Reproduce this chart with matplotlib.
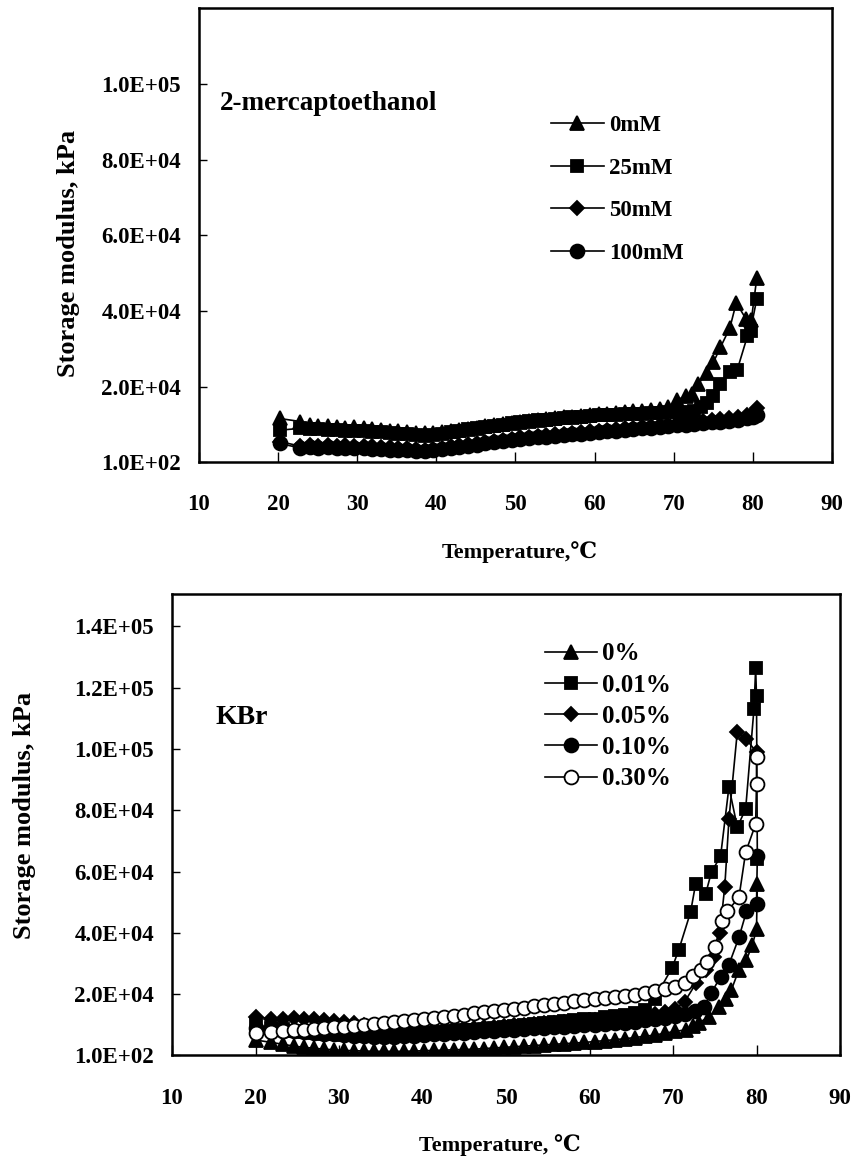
import matplotlib
matplotlib.use("Agg")
import matplotlib.pyplot as plt

SERIF = ["Liberation Serif", "DejaVu Serif"]
plt.rcParams["font.family"] = SERIF
plt.rcParams["font.weight"] = "bold"

# ---------------- 2-mercaptoethanol panel ----------------
T_top_base = [20.2, 22.8, 24.0, 25.1, 26.3, 27.4, 28.5, 29.6, 30.8, 31.9, 33.0,
              34.1, 35.2, 36.3, 37.4, 38.5, 39.6, 40.7, 41.8, 42.9, 44.0, 45.1,
              46.2, 47.3, 48.4, 49.5, 50.6, 51.7, 52.8, 53.9, 55.0, 56.1, 57.2,
              58.3, 59.4, 60.5, 61.6, 62.7, 63.8, 64.9, 66.0, 67.1, 68.2, 69.3]

G_0mM_base = [11600, 10800, 9800, 9500, 9700, 9300, 9200, 9300, 9000, 8800, 8600,
              8400, 8200, 8000, 7800, 7700, 7800, 8000, 8300, 8600, 8900, 9200,
              9500, 9800, 10100, 10400, 10700, 11000, 11300, 11500, 11700, 11900,
              12100, 12300, 12500, 12700, 12900, 13100, 13300, 13500, 13700, 13900,
              14200, 14600]
T_0mM_tail = [70.4, 71.5, 72.3, 73.1, 74.2, 75.0, 75.9, 77.1, 77.9, 79.1, 79.8, 80.5]
G_0mM_tail = [16500, 17500, 18200, 20800, 23500, 26400, 30400, 35600, 42200, 38000,
              37600, 48800]

G_25mM_base = [8500, 9000, 8800, 8700, 8600, 8500, 8400, 8300, 8200, 8100, 8000,
               7800, 7600, 7400, 7200, 7100, 7300, 7600, 7900, 8300, 8700, 9100,
               9400, 9700, 10000, 10300, 10600, 10900, 11100, 11300, 11500, 11700,
               11900, 12100, 12300, 12400, 12500, 12600, 12700, 12800, 12900, 13000,
               13100, 13200]
T_25mM_tail = [70.4, 71.5, 72.6, 73.4, 74.2, 75.0, 75.9, 77.1, 78.0, 79.3, 79.7, 80.5]
G_25mM_tail = [13300, 13400, 13500, 14600, 15600, 17500, 20600, 23800, 24300, 33300,
               34800, 43300]

G_50mM_base = [5500, 4300, 4500, 4400, 4500, 4400, 4500, 4300, 4400, 4200, 4100,
               4000, 3800, 3700, 3500, 3400, 3600, 3900, 4200, 4500, 4800, 5100,
               5400, 5700, 6000, 6300, 6600, 6800, 7000, 7200, 7400, 7600, 7800,
               8000, 8200, 8400, 8600, 8800, 9000, 9200, 9400, 9600, 9800, 10000]
T_50mM_tail = [70.4, 71.5, 72.6, 73.7, 74.8, 75.9, 77.0, 78.1, 79.2, 80.0, 80.5]
G_50mM_tail = [10200, 10400, 10600, 10900, 11200, 11500, 11800, 12100, 12600, 13100,
               14500]

G_100mM_base = [5000, 3800, 4000, 3900, 4000, 3800, 3900, 3700, 3800, 3600, 3500,
                3400, 3300, 3200, 3100, 3000, 3200, 3500, 3800, 4100, 4400, 4700,
                5000, 5300, 5600, 5900, 6200, 6400, 6600, 6800, 7000, 7200, 7400,
                7600, 7800, 8000, 8200, 8400, 8600, 8800, 9000, 9200, 9400, 9600]
T_100mM_tail = [70.4, 71.5, 72.6, 73.7, 74.8, 75.9, 77.0, 78.1, 79.2, 80.0, 80.5]
G_100mM_tail = [9800, 10000, 10200, 10400, 10600, 10800, 11000, 11300, 11600, 12000,
                12500]

top_labels = ["0mM", "25mM", "50mM", "100mM"]

# ---------------- KBr panel ----------------
T_bot_base = [20.0, 21.9, 23.3, 24.6, 25.8, 27.0, 28.2, 29.4, 30.6, 31.8, 33.0,
              34.2, 35.4, 36.6, 37.8, 39.0, 40.2, 41.4, 42.6, 43.8, 45.0, 46.2,
              47.4, 48.6, 49.8, 51.0, 52.2, 53.4, 54.6, 55.8, 57.0, 58.2, 59.4,
              60.6, 61.8, 63.0, 64.2, 65.4, 66.6, 67.8]

G_0pct_base = [5000, 4200, 3600, 3000, 2600, 2300, 2000, 1800, 1600, 1500, 1400,
               1300, 1300, 1300, 1300, 1400, 1500, 1600, 1700, 1800, 1900, 2000,
               2200, 2400, 2600, 2800, 3000, 3200, 3400, 3600, 3800, 4000, 4200,
               4500, 4800, 5100, 5400, 5800, 6200, 6600]
T_0pct_tail = [69.0, 70.2, 71.5, 72.4, 73.1, 74.3, 75.5, 76.3, 77.0, 77.9, 78.8,
               79.5, 80.0, 80.1]
G_0pct_tail = [7200, 7800, 8300, 9500, 10600, 12600, 15800, 18500, 21400, 28000,
               31200, 36000, 41100, 55800]

G_001pct_base = [10000, 9000, 8500, 8000, 7700, 7400, 7100, 6900, 6700, 6500, 6400,
                 6300, 6300, 6400, 6600, 6800, 7000, 7200, 7500, 7800, 8100, 8400,
                 8700, 9000, 9300, 9600, 9900, 10200, 10500, 10800, 11100, 11400,
                 11700, 12000, 12400, 12800, 13300, 13800, 14800, 18500]
T_001pct_tail = [69.9, 70.7, 72.1, 72.7, 73.9, 74.6, 75.7, 76.7, 77.7, 78.7, 79.7,
                 79.9, 80.0, 80.1]
G_001pct_tail = [28600, 34500, 46700, 55800, 52600, 59800, 65000, 87600, 74500,
                 80400, 113200, 126300, 117200, 64000]

G_005pct_base = [12500, 12000, 11800, 12200, 11800, 12000, 11500, 11200, 11000,
                 10500, 10000, 9500, 9000, 8800, 8600, 8500, 8500, 8600, 8700, 8800,
                 8900, 9000, 9200, 9400, 9600, 9800, 10000, 10200, 10400, 10600,
                 10800, 11000, 11200, 11400, 11700, 12000, 12300, 12600, 13000, 13500]
T_005pct_tail = [69.0, 70.2, 71.4, 72.8, 73.9, 74.9, 75.6, 76.2, 76.7, 77.7, 78.7,
                 80.0]
G_005pct_tail = [14000, 15000, 17500, 23700, 28000, 32200, 40000, 55000, 77000,
                 105600, 103400, 99000]

G_010pct_base = [9000, 8500, 8000, 7800, 7500, 7200, 7000, 6800, 6600, 6400, 6200,
                 6100, 6000, 6100, 6200, 6400, 6600, 6800, 7000, 7200, 7400, 7600,
                 7800, 8000, 8200, 8400, 8600, 8800, 9000, 9200, 9400, 9600, 9800,
                 10000, 10200, 10400, 10700, 11000, 11400, 11800]
T_010pct_tail = [69.0, 70.2, 71.4, 72.6, 73.7, 74.6, 75.7, 76.7, 77.9, 78.8, 80.0,
                 80.1]
G_010pct_tail = [12300, 12900, 13600, 14600, 15800, 20400, 25700, 29600, 38500,
                 47000, 49300, 65000]

G_030pct_base = [7300, 7700, 7900, 8200, 8400, 8700, 8900, 9100, 9400, 9700, 9900,
                 10200, 10500, 10800, 11100, 11400, 11700, 12100, 12500, 12900,
                 13300, 13700, 14000, 14400, 14800, 15200, 15600, 16000, 16400,
                 16800, 17200, 17600, 18000, 18400, 18700, 19000, 19300, 19700,
                 20200, 21000]
T_030pct_tail = [69.0, 70.2, 71.4, 72.4, 73.3, 74.1, 75.0, 75.9, 76.5, 77.9, 78.7,
                 79.9, 80.0, 80.0]
G_030pct_tail = [21500, 22400, 23500, 26000, 28000, 30300, 35500, 43700, 47000,
                 51600, 66300, 75500, 88600, 97500]

bot_labels = ["0%", "0.01%", "0.05%", "0.10%", "0.30%"]

x_ticks = [10, 20, 30, 40, 50, 60, 70, 80, 90]
top_yticks = [100, 20000, 40000, 60000, 80000, 100000]
top_yticklabels = ["1.0E+02", "2.0E+04", "4.0E+04", "6.0E+04", "8.0E+04", "1.0E+05"]
bot_yticks = [100, 20000, 40000, 60000, 80000, 100000, 120000, 140000]
bot_yticklabels = ["1.0E+02", "2.0E+04", "4.0E+04", "6.0E+04", "8.0E+04",
                   "1.0E+05", "1.2E+05", "1.4E+05"]

# marker styles per series: (marker, size, face colour)
top_styles = [("^", 10, "black"), ("s", 9, "black"), ("D", 7.5, "black"), ("o", 10, "black")]
bot_styles = [("^", 10, "black"), ("s", 9, "black"), ("D", 7.5, "black"),
              ("o", 10, "black"), ("o", 10, "white")]

fig = plt.figure(figsize=(8.53, 11.64), dpi=100)
ax1 = fig.add_axes([199 / 853, 1 - 462 / 1164, 633 / 853, 454 / 1164])
ax2 = fig.add_axes([172 / 853, 1 - 1055 / 1164, 668 / 853, 461 / 1164])

top_series = [
    (T_top_base + T_0mM_tail, G_0mM_base + G_0mM_tail),
    (T_top_base + T_25mM_tail, G_25mM_base + G_25mM_tail),
    (T_top_base + T_50mM_tail, G_50mM_base + G_50mM_tail),
    (T_top_base + T_100mM_tail, G_100mM_base + G_100mM_tail),
]
bot_series = [
    (T_bot_base + T_0pct_tail, G_0pct_base + G_0pct_tail),
    (T_bot_base + T_001pct_tail, G_001pct_base + G_001pct_tail),
    (T_bot_base + T_005pct_tail, G_005pct_base + G_005pct_tail),
    (T_bot_base + T_010pct_tail, G_010pct_base + G_010pct_tail),
    (T_bot_base + T_030pct_tail, G_030pct_base + G_030pct_tail),
]


def draw(ax, series, styles, labels):
    for (t, g), (m, ms, fc), lab in zip(series, styles, labels):
        ax.plot(t, g, color="black", lw=1.2, marker=m, markersize=ms,
                markerfacecolor=fc, markeredgecolor="black", markeredgewidth=1.3,
                label=lab)


def style_axes(ax, ymax, yticks, yticklabels, xpad, ypad):
    ax.set_xlim(10, 90)
    ax.set_ylim(100, ymax)
    ax.set_xticks(x_ticks)
    ax.set_xticklabels([str(v) for v in x_ticks])
    ax.set_yticks(yticks)
    ax.set_yticklabels(yticklabels)
    ax.tick_params(axis="x", direction="in", length=7, width=1.0, pad=xpad,
                   labelsize=16.5)
    ax.tick_params(axis="y", direction="in", length=6, width=1.0, pad=ypad,
                   labelsize=16.5)
    for lab in ax.get_xticklabels() + ax.get_yticklabels():
        lab.set_fontweight("bold")
    for sp in ax.spines.values():
        sp.set_linewidth(1.8)
        sp.set_color("black")


draw(ax1, top_series, top_styles, top_labels)
style_axes(ax1, 120100, top_yticks, top_yticklabels, 23, 13)
draw(ax2, bot_series, bot_styles, bot_labels)
style_axes(ax2, 150600, bot_yticks, bot_yticklabels, 24, 13)

# axis titles
ax1.set_xlabel("Temperature,℃", fontsize=16, fontweight="bold", family=SERIF)
ax1.xaxis.set_label_coords(0.507, -0.174)
ax1.set_ylabel("Storage modulus, kPa", fontsize=19, fontweight="bold", family=SERIF)
ax1.yaxis.set_label_coords(-0.188, 0.46)

ax2.set_xlabel("Temperature, ℃", fontsize=16, fontweight="bold", family=SERIF)
ax2.xaxis.set_label_coords(0.49, -0.171)
ax2.set_ylabel("Storage modulus, kPa", fontsize=19, fontweight="bold", family=SERIF)
ax2.yaxis.set_label_coords(-0.204, 0.52)

# panel captions
ax1.text(21 / 633, (462 - 103) / 454, "2-mercaptoethanol", transform=ax1.transAxes,
         fontsize=19.5, fontweight="bold", va="center", ha="left")
ax2.text(43 / 668, (1055 - 717) / 461, "KBr", transform=ax2.transAxes,
         fontsize=20, fontweight="bold", va="center", ha="left")

# legends
leg1 = ax1.legend(loc="upper left", bbox_to_anchor=(0.556, 0.765), frameon=False,
                  fontsize=16.5, handlelength=2.3, handletextpad=0.25,
                  labelspacing=0.95, borderaxespad=0, borderpad=0)
leg2 = ax2.legend(loc="upper left", bbox_to_anchor=(0.558, 0.895), frameon=False,
                  fontsize=18, handlelength=2.1, handletextpad=0.2,
                  labelspacing=0.33, borderaxespad=0, borderpad=0)
for leg in (leg1, leg2):
    for txt in leg.get_texts():
        txt.set_fontweight("bold")

fig.savefig("out.png", dpi=100)
